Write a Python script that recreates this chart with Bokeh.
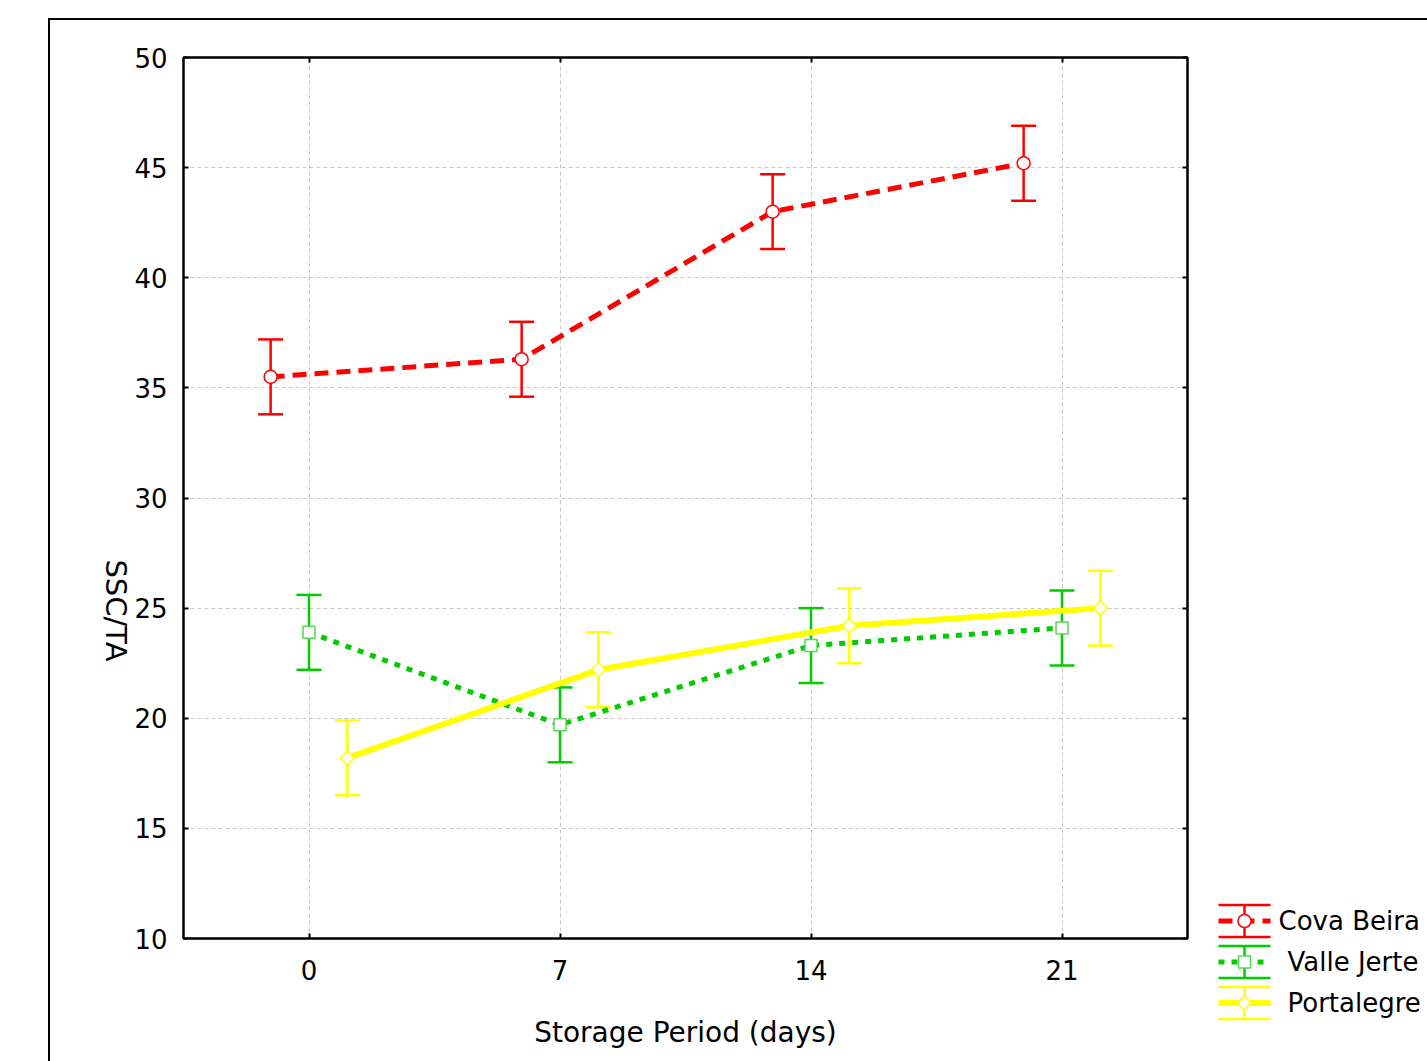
import math
from bokeh.plotting import figure
from bokeh.models import (ColumnDataSource, Whisker, TeeHead, FixedTicker, Range1d,
                          LinearAxis, CustomJSTickFormatter)
from bokeh.layouts import row
from bokeh.embed import file_html
from bokeh.resources import INLINE
from bokeh.core.properties import value

# ---------------- data ----------------
days = [0, 7, 14, 21]
x_tick_labels = ["0", "7", "14", "21"]
y_ticks = [10, 15, 20, 25, 30, 35, 40, 45, 50]
series_names = ["Cova Beira", "Valle Jerte", "Portalegre"]

cova_beira = [35.5, 36.3, 43.0, 45.2]
cova_beira_err = [1.7, 1.7, 1.7, 1.7]
valle_jerte = [23.9, 19.7, 23.3, 24.1]
valle_jerte_err = [1.7, 1.7, 1.7, 1.7]
portalegre = [18.2, 22.2, 24.2, 25.0]
portalegre_err = [1.7, 1.7, 1.7, 1.7]

x_label = "Storage Period (days)"
y_label = "SSC/TA"

# ---------------- styles ----------------
FONT = "DejaVu Sans"
colors = ["#ff0000", "#00cc00", "#ffff00"]
marker_line_colors = ["#ff0000", "#55d855", "#ffff00"]
dashes = ["14 8", "6 7", "solid"]
widths = [5, 5, 6]
markers = ["circle", "square", "square"]
marker_sizes = [13, 12, 10]
marker_angles = [0, 0, math.pi / 4]
dodge = [-1.07, 0.0, 1.07]

means = [cova_beira, valle_jerte, portalegre]
errs = [cova_beira_err, valle_jerte_err, portalegre_err]

H = 1041


def no_align(fig):
    try:
        fig.frame_align = False
    except Exception:
        pass


# ---------------- y-label panel ----------------
LABW = 80
lab = figure(width=LABW, height=H, output_backend="svg", toolbar_location=None,
             x_range=Range1d(0, LABW), y_range=Range1d(H, 0),
             x_axis_type=None, y_axis_type=None, min_border=0)
lab.outline_line_color = None
lab.grid.visible = False
lab.background_fill_color = "white"
lab.border_fill_color = "white"
no_align(lab)
lab.text([65], [590], text=[y_label], angle=-math.pi / 2, text_font=value(FONT),
         text_font_size="29px", text_align="center", text_baseline="middle",
         text_color="black")

# ---------------- main figure ----------------
p = figure(width=1070, height=H, output_backend="svg", toolbar_location=None,
           x_range=Range1d(-3.5, 24.5), y_range=Range1d(10, 50),
           min_border_left=53, min_border_right=13, min_border_top=37,
           min_border_bottom=123)
p.background_fill_color = "white"
p.border_fill_color = "white"
p.outline_line_color = "black"
p.outline_line_width = 2.5

for g in (p.xgrid[0], p.ygrid[0]):
    g.grid_line_color = "#c8c8c8"
    g.grid_line_dash = "4 3"
    g.grid_line_width = 1
p.xgrid[0].ticker = FixedTicker(ticks=days)
p.ygrid[0].ticker = FixedTicker(ticks=y_ticks)

p.xaxis.ticker = FixedTicker(ticks=days)
p.xaxis.major_label_overrides = {d: lab_ for d, lab_ in zip(days, x_tick_labels)}
p.yaxis.ticker = FixedTicker(ticks=y_ticks)
p.xaxis.axis_label = x_label
for ax in (p.xaxis[0], p.yaxis[0]):
    ax.axis_line_color = None
    ax.major_tick_in = 5
    ax.major_tick_out = 0
    ax.major_tick_line_width = 2
    ax.minor_tick_line_color = None
    ax.major_label_text_font = FONT
    ax.major_label_text_font_size = "26px"
    ax.major_label_text_color = "black"
    ax.axis_label_text_font = FONT
    ax.axis_label_text_font_size = "28px"
    ax.axis_label_text_font_style = "normal"
    ax.axis_label_text_color = "black"
p.yaxis.major_label_standoff = 16
p.xaxis.major_label_standoff = 21
p.xaxis.axis_label_standoff = 33

blank = CustomJSTickFormatter(code="return ''")
right_ax = LinearAxis(ticker=FixedTicker(ticks=y_ticks), formatter=blank,
                      axis_line_color=None, major_tick_in=5, major_tick_out=0,
                      major_tick_line_width=2, minor_tick_line_color=None,
                      major_label_standoff=0)
top_ax = LinearAxis(ticker=FixedTicker(ticks=days), formatter=blank,
                    axis_line_color=None, major_tick_in=5, major_tick_out=0,
                    major_tick_line_width=2, minor_tick_line_color=None,
                    major_label_standoff=0)
p.add_layout(right_ax, "right")
p.add_layout(top_ax, "above")

for i, name in enumerate(series_names):
    xs = [d + dodge[i] for d in days]
    ys = means[i]
    up = [m + e for m, e in zip(ys, errs[i])]
    lo = [m - e for m, e in zip(ys, errs[i])]
    src = ColumnDataSource(data=dict(x=xs, y=ys, upper=up, lower=lo))
    p.line("x", "y", source=src, line_color=colors[i], line_width=widths[i],
           line_dash=dashes[i])
    w = Whisker(base="x", upper="upper", lower="lower", source=src,
                dimension="height", line_color=colors[i], line_width=2.5,
                upper_head=TeeHead(size=25, line_color=colors[i], line_width=2.5),
                lower_head=TeeHead(size=25, line_color=colors[i], line_width=2.5))
    p.add_layout(w)
    r = p.scatter("x", "y", source=src, marker=markers[i], size=marker_sizes[i],
                  angle=marker_angles[i], fill_color="white",
                  line_color=marker_line_colors[i], line_width=1.5)
    r.level = "overlay"

# ---------------- legend panel ----------------
LW = 227
leg = figure(width=LW, height=H, output_backend="svg", toolbar_location=None,
             x_range=Range1d(0, LW), y_range=Range1d(H, 0),
             x_axis_type=None, y_axis_type=None, min_border=0)
leg.outline_line_color = None
leg.background_fill_color = "white"
leg.border_fill_color = "white"
leg.grid.visible = False
no_align(leg)

GX0, GX1 = 18, 70
GXC = (GX0 + GX1) / 2
ROW0, DROW, HALF = 900.5, 41, 16
text_x = [78, 87, 87]
for i, name in enumerate(series_names):
    yc = ROW0 + i * DROW
    leg.segment(x0=[GX0, GX0, GXC], y0=[yc - HALF, yc + HALF, yc - HALF],
                x1=[GX1, GX1, GXC], y1=[yc - HALF, yc + HALF, yc + HALF],
                line_color=colors[i], line_width=2.5)
    leg.line([GX0, GX1], [yc, yc], line_color=colors[i], line_width=widths[i],
             line_dash=dashes[i])
    leg.scatter([GXC], [yc], marker=markers[i], size=marker_sizes[i],
                angle=marker_angles[i], fill_color="white",
                line_color=marker_line_colors[i], line_width=1.5)
    leg.text([text_x[i]], [yc], text=[name], text_font=value(FONT),
             text_font_size="26px", text_baseline="middle", text_align="left",
             text_color="black")

layout = row(lab, p, leg, margin=(18, 0, 0, 48),
             styles={"border-top": "2px solid black", "border-left": "2px solid black"})

open("out.html", "w").write(file_html(layout, INLINE))
